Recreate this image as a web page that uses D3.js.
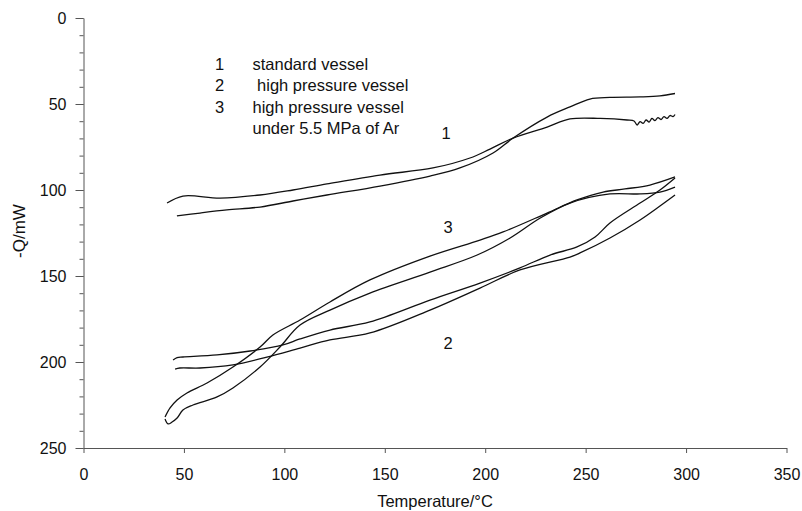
<!DOCTYPE html>
<html lang="en">
<head>
    <meta charset="UTF-8">
    <title>DSC curves</title>
    <script src="https://cdn.jsdelivr.net/npm/d3@7"></script>
    <style>
        body { margin: 0; background: #fff; }
        svg { display: block; font-family: "Liberation Sans", Arial, sans-serif; }
        .axis text { font-size: 16px; fill: #111; }
        .axis path, .axis line { stroke: #555; }
        .curve { fill: none; stroke: #111; stroke-width: 1.3; }
        .label { font-size: 16.5px; fill: #111; }
    </style>
</head>
<body>
    <div id="chart-space"></div>

    <script>
        // tick values
        var xTicks = [0, 50, 100, 150, 200, 250, 300, 350];
        var yTicks = [0, 50, 100, 150, 200, 250];
        var yMinorTicks = d3.range(0, 251, 10);

        // curve 1, standard vessel (temperature, -Q)
        var curve1a = [[41.6, 107.6], [49.5, 103.5], [68.0, 104.7], [87.9, 102.9], [104.3, 100.0],
            [121.2, 96.5], [147.6, 91.3], [174.0, 87.2], [192.4, 81.4], [202.4, 76.2], [213.9, 69.8],
            [230.8, 63.4], [242.2, 58.7], [257.2, 58.4], [270.6, 59.3], [274.1, 59.9], [275.6, 62.2],
            [277.1, 60.2], [278.6, 61.3], [280.1, 59.3], [281.6, 60.5], [283.0, 58.4], [284.5, 59.6],
            [286.0, 57.9], [287.5, 59.0], [289.0, 57.3], [290.5, 58.4], [292.0, 56.7], [293.5, 57.3],
            [294.5, 56.1]];
        var curve1b = [[46.5, 115.1], [58.0, 113.4], [71.4, 111.6], [87.9, 109.9], [104.3, 106.4],
            [121.2, 102.9], [147.6, 97.7], [172.5, 91.9], [187.4, 87.2], [203.9, 78.5], [213.9, 69.8],
            [230.8, 57.6], [242.2, 51.7], [252.1, 47.1], [262.1, 46.2], [277.1, 45.9], [287.0, 45.3],
            [294.5, 43.9]];

        // curve 2, high pressure vessel
        var curve2a = [[44.6, 198.8], [46.6, 197.4], [49.5, 197.1], [66.5, 195.9], [83.0, 193.6],
            [99.3, 190.1], [107.8, 186.6], [122.7, 181.4], [142.6, 176.7], [172.5, 164.0], [197.4, 154.1],
            [217.3, 145.3], [232.3, 137.8], [245.7, 133.1], [254.7, 127.3], [262.1, 119.2], [277.1, 107.6],
            [287.0, 100.0], [294.5, 93.0]];
        var curve2b = [[45.6, 204.1], [48.0, 203.5], [58.0, 203.5], [74.4, 201.7], [91.3, 197.1],
            [107.8, 191.9], [122.7, 187.2], [142.6, 183.1], [172.5, 169.8], [197.4, 157.0], [217.3, 146.5],
            [242.2, 139.0], [247.2, 136.6], [262.1, 127.9], [277.1, 117.4], [287.0, 109.3], [294.5, 102.9]];

        // curve 3, high pressure vessel under 5.5 MPa of Ar
        var curve3a = [[40.6, 232.0], [43.1, 226.7], [46.6, 222.1], [51.5, 218.0], [61.5, 212.2],
            [74.4, 202.9], [87.9, 191.3], [94.3, 184.3], [107.8, 175.6], [122.7, 165.1], [142.6, 152.3],
            [172.5, 138.4], [197.4, 129.1], [208.9, 124.4], [230.8, 113.4], [245.7, 105.8], [258.7, 101.2],
            [269.6, 99.4], [282.0, 97.1], [294.5, 92.4]];
        var curve3b = [[40.6, 233.1], [42.1, 236.0], [44.1, 234.9], [46.6, 232.6], [49.5, 227.9],
            [54.5, 225.0], [66.5, 220.3], [74.4, 215.1], [87.9, 202.9], [97.8, 191.3], [107.8, 178.5],
            [122.7, 169.8], [142.6, 159.9], [172.5, 147.7], [196.0, 137.8], [212.4, 127.9], [227.4, 116.3],
            [242.2, 107.6], [262.1, 102.3], [277.1, 102.3], [287.0, 101.2], [294.5, 98.3]];

        var curves = [curve1a, curve1b, curve2a, curve2b, curve3a, curve3b];

        // legend and curve labels
        var legendNums = ["1", "2", "3", ""];
        var legendTexts = ["standard vessel", " high pressure vessel", "high pressure vessel", "under 5.5 MPa of Ar"];
        var curveLabels = ["1", "3", "2"];
        var curveLabelPos = [[180.5, 70.5], [181.5, 125.0], [181.5, 192.5]];

        var width = 802;
        var height = 511;
        var margin = {top: 18, right: 15, bottom: 63, left: 83.5};

        var svg = d3.select("#chart-space")
            .append("svg")
            .attr("width", width)
            .attr("height", height);

        var xScale = d3.scaleLinear()
            .domain([0, 350])
            .range([margin.left, 786.5]);

        var yScale = d3.scaleLinear()
            .domain([0, 250])
            .range([margin.top, 448]);

        // minor ticks on the y axis
        svg.append("g")
            .attr("class", "axis")
            .attr("transform", "translate(" + margin.left + ",0)")
            .call(d3.axisLeft(yScale).tickValues(yMinorTicks).tickSize(4).tickFormat(""))
            .select(".domain").remove();

        svg.append("g")
            .attr("class", "axis")
            .attr("transform", "translate(" + margin.left + ",0)")
            .call(d3.axisLeft(yScale).tickValues(yTicks).tickSize(8).tickSizeOuter(0).tickPadding(9));

        svg.append("g")
            .attr("class", "axis")
            .attr("transform", "translate(0,448)")
            .call(d3.axisBottom(xScale).tickValues(xTicks).tickSize(5).tickSizeOuter(0).tickPadding(16));

        svg.selectAll(".axis text").attr("font-family", null);

        // axis titles
        svg.append("text")
            .attr("class", "label")
            .attr("text-anchor", "middle")
            .attr("x", 435)
            .attr("y", 507)
            .text("Temperature/°C");

        svg.append("text")
            .attr("class", "label")
            .attr("text-anchor", "middle")
            .style("font-size", "17px")
            .attr("transform", "translate(25,231) rotate(-90)")
            .text("-Q/mW");

        var line = d3.line()
            .x(function(d) { return xScale(d[0]); })
            .y(function(d) { return yScale(d[1]); })
            .curve(d3.curveCatmullRom.alpha(0.5));

        svg.selectAll(".curve")
            .data(curves)
            .join("path")
            .attr("class", "curve")
            .attr("d", line);

        // legend block
        var legend = svg.append("g");
        legend.selectAll(".num")
            .data(legendNums)
            .join("text")
            .attr("class", "label num")
            .attr("x", 215)
            .attr("y", function(d, i) { return 70 + i * 21.3; })
            .text(function(d) { return d; });

        legend.selectAll(".desc")
            .data(legendTexts)
            .join("text")
            .attr("class", "label desc")
            .attr("x", 252.5)
            .attr("y", function(d, i) { return 70 + i * 21.3; })
            .style("white-space", "pre")
            .text(function(d) { return d; });

        svg.selectAll(".clabel")
            .data(curveLabels)
            .join("text")
            .attr("class", "label clabel")
            .attr("text-anchor", "middle")
            .attr("x", function(d, i) { return xScale(curveLabelPos[i][0]); })
            .attr("y", function(d, i) { return yScale(curveLabelPos[i][1]); })
            .text(function(d) { return d; });
    </script>
</body>
</html>
